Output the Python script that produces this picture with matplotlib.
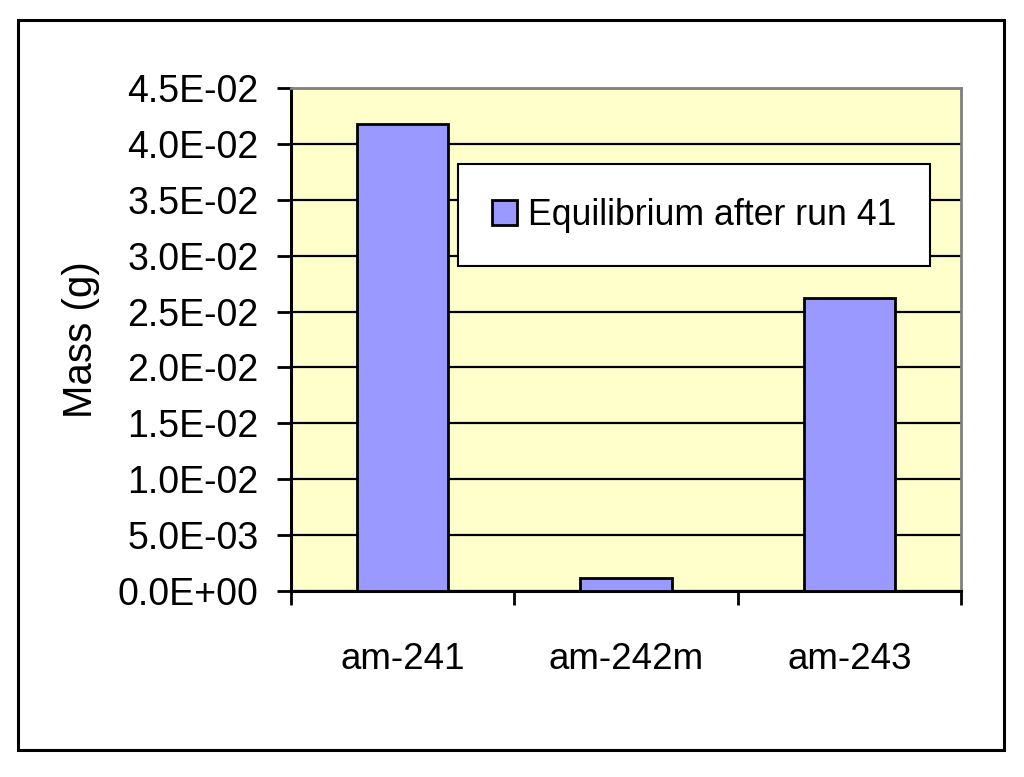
import matplotlib
matplotlib.use("Agg")
import matplotlib.pyplot as plt
from matplotlib.patches import Rectangle
from matplotlib.ticker import FuncFormatter, MultipleLocator

plt.rcParams["font.family"] = ["Liberation Sans", "DejaVu Sans"]

isotopes = ["am-241", "am-242m", "am-243"]
mass_g = [0.0418, 0.0012, 0.0262]
series_label = "Equilibrium after run 41"

fig = plt.figure(figsize=(10.24, 7.77), dpi=100)
ax = fig.add_axes([0.284, 0.2394, 0.6545, 0.6473])

# outer chart border
fig.patches.append(Rectangle((18 / 1024, 1 - 750 / 777), (1004 - 18) / 1024, (750 - 20) / 777,
                             transform=fig.transFigure, fill=False, edgecolor="black", linewidth=2.2))

ax.set_facecolor("#FFFFCC")
x = range(len(isotopes))
ax.bar(x, mass_g, width=0.41, color="#9999FF", edgecolor="black", linewidth=2,
       label=series_label, zorder=3)

ax.set_xlim(-0.5, 2.5)
ax.set_ylim(0, 0.045)
ax.yaxis.set_major_locator(MultipleLocator(0.005))
ax.yaxis.set_major_formatter(FuncFormatter(lambda v, p: f"{v:.1E}"))
ax.grid(axis="y", color="black", linewidth=1.6, zorder=1)
ax.set_axisbelow(True)

ax.set_xticks([-0.5, 0.5, 1.5, 2.5])
ax.set_xticklabels([])
ax.set_xticks(list(x), minor=True)
ax.set_xticklabels(isotopes, minor=True)
ax.tick_params(axis="x", which="major", length=10, width=2, direction="out")
ax.tick_params(axis="x", which="minor", length=0, pad=37, labelsize=26.5)
ax.tick_params(axis="y", length=10, width=2, direction="out", pad=13, labelsize=27)

for side in ["left", "bottom"]:
    ax.spines[side].set_linewidth(2.2)
    ax.spines[side].set_color("black")
for side in ["top", "right"]:
    ax.spines[side].set_linewidth(2)
    ax.spines[side].set_color("#808080")

ax.set_ylabel("Mass (g)", fontsize=29)
ax.yaxis.set_label_coords(-0.284, 0.5)

leg = ax.legend(loc="center", bbox_to_anchor=(0.602, 0.7475), fontsize=25.7,
                fancybox=False, shadow=False, framealpha=1, borderpad=0.95,
                handlelength=0.7, handleheight=0.7, handletextpad=0.3)
leg.get_frame().set_edgecolor("black")
leg.get_frame().set_linewidth(1.5)

fig.savefig("out.png", dpi=100)
